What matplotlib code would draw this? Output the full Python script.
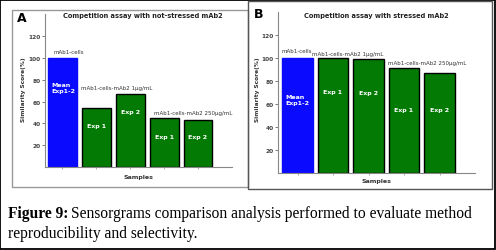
import numpy as np
import matplotlib.pyplot as plt
from matplotlib.patches import Rectangle

W, H = 496, 251

# data
vals_a = [100, 54, 67, 45, 43.5]
vals_b = [100, 100, 99.5, 91, 87]
inner = ["Mean\nExp1-2", "Exp 1", "Exp 2", "Exp 1", "Exp 2"]
inner_y_a = [73, 38, 51, 28, 28]
inner_y_b = [64, 71, 70, 55, 55]
colors = ["#0a0aff", "#037a03", "#037a03", "#037a03", "#037a03"]
yticks = [20, 40, 60, 80, 100, 120]
groups = ["mAb1-cells", "mAb1-cells-mAb2 1µg/mL", "mAb1-cells-mAb2 250µg/mL"]
grp_pos_a = [(-0.25, 104), (0.55, 71), (2.7, 47.5)]
grp_pos_b = [(-0.45, 104.5), (0.42, 101.5), (2.55, 94)]

fig = plt.figure(figsize=(W / 100, H / 100), dpi=100)


def fx(x):
    return x / W


def fy(y):
    return 1 - y / H


# outer frame and panel boxes
fig.patches.append(Rectangle((0.001, 0.002), 0.997, 0.996, transform=fig.transFigure,
                             fill=False, ec="black", lw=1.3))
fig.patches.append(Rectangle((fx(12), fy(188)), fx(236), 177 / H, transform=fig.transFigure,
                             fill=False, ec="#999999", lw=1))
fig.patches.append(Rectangle((fx(248), fy(190)), fx(244), 188 / H, transform=fig.transFigure,
                             fill=False, ec="#555555", lw=1))


def panel(rect, vals, iny, gpos, xlim, bw, title, tx, letter, lx, ly, xlab_y, ylab_x):
    ax = fig.add_axes(rect)
    x = np.arange(len(vals))
    for i in range(len(vals)):
        ec = colors[i] if i == 0 else "black"
        ax.bar(x[i], vals[i], width=bw, color=colors[i], edgecolor=ec, lw=1)
        if i == 0:
            ax.text(x[i] - bw / 2 + 0.1, iny[i], inner[i], color="white", fontsize=4.5,
                    fontweight="bold", ha="left", va="center")
        else:
            ax.text(x[i], iny[i], inner[i], color="white", fontsize=4.5,
                    fontweight="bold", ha="center", va="center")
    for g, (gx, gy) in zip(groups, gpos):
        ax.text(gx, gy, g, fontsize=4.0, color="#333333", ha="left", va="bottom")
    ax.set_xlim(*xlim)
    ax.set_ylim(0, 140)
    ax.set_yticks(yticks)
    ax.set_yticklabels([str(t) for t in yticks], fontsize=4.2, fontweight="bold", color="#444444")
    ax.set_xticks(x)
    ax.set_xticklabels([])
    ax.tick_params(axis="y", length=2, width=0.6, pad=1, color="#666666")
    ax.tick_params(axis="x", length=1.5, width=0.5, color="#888888")
    for s in ["top", "right"]:
        ax.spines[s].set_visible(False)
    ax.spines["left"].set_color("#888888")
    ax.spines["bottom"].set_color("#888888")
    ax.patch.set_alpha(0)
    fig.text(fx(tx), fy(16), title, fontsize=4.8, fontweight="bold", ha="center", va="center", color="#222222")
    fig.text(fx(lx), fy(ly), letter, fontsize=9, fontweight="bold", ha="left", va="center")
    pos = ax.get_position()
    fig.text(pos.x0 + pos.width / 2, fy(xlab_y), "Samples",
             fontsize=4.5, fontweight="bold", ha="center", va="center", color="#333333")
    fig.text(fx(ylab_x), fy(90), "Similarity Score(%)", fontsize=4.2, fontweight="bold",
             rotation=90, ha="center", va="center", color="#333333")
    return ax


panel([fx(45), 83 / H, 187 / W, 152.6 / H], vals_a, inner_y_a, grp_pos_a, (-0.51, 5.0), 0.85,
      "Competition assay with not-stressed mAb2", 143, "A", 17, 18, 178, 24)
panel([fx(278), 77 / H, 197 / W, 161 / H], vals_b, inner_y_b, grp_pos_b, (-0.55, 5.0), 0.87,
      "Competition assay with stressed mAb2", 376, "B", 254, 15, 182, 257)

# caption
cap_font = "Liberation Serif"
t1 = fig.text(fx(8), fy(214), "Figure 9:", fontsize=11.2, fontweight="bold", family=cap_font,
              ha="left", va="center")
fig.canvas.draw()
bb = t1.get_window_extent()
fig.text((bb.x1 + 3) / W, fy(214), "Sensorgrams comparison analysis performed to evaluate method",
         fontsize=11.2, family=cap_font, ha="left", va="center")
fig.text(fx(8), fy(234), "reproducibility and selectivity.", fontsize=11.2, family=cap_font,
         ha="left", va="center")

fig.savefig("out.png", dpi=100)
